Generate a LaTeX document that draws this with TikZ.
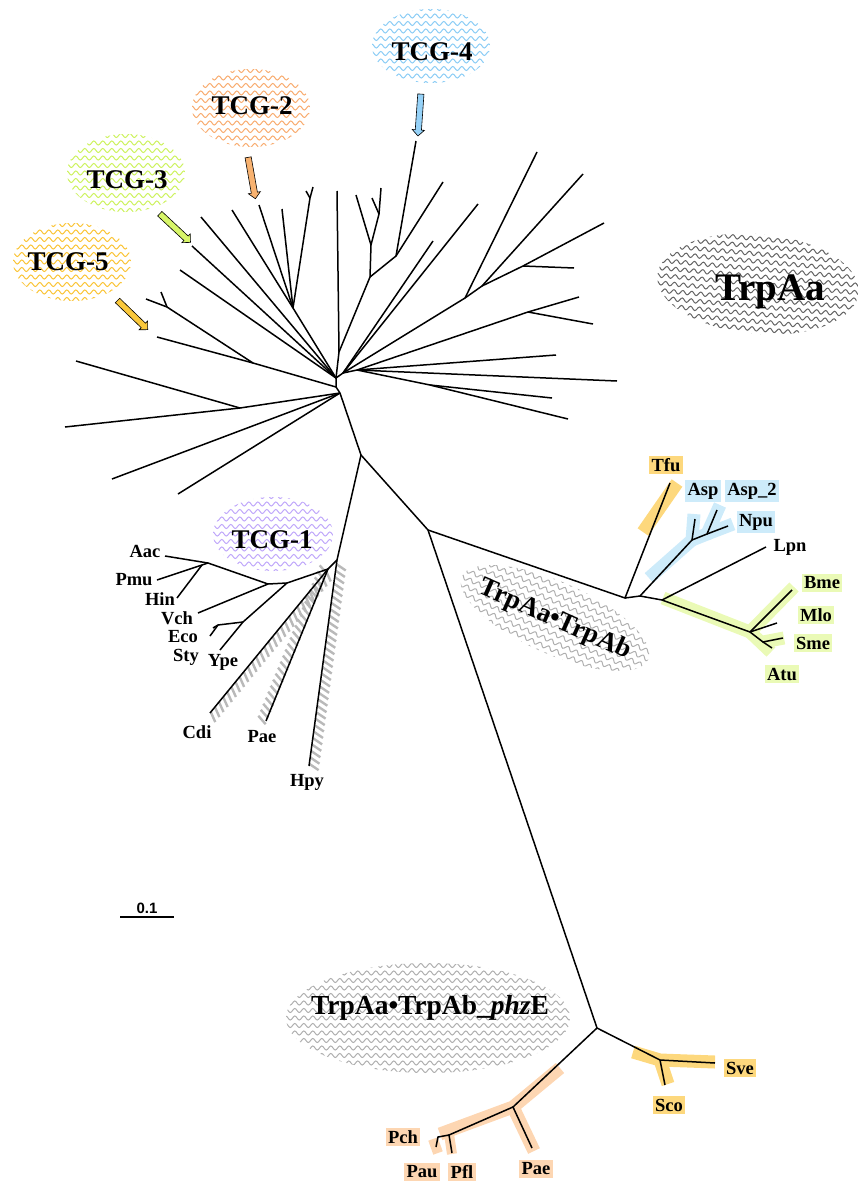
\documentclass[tikz,border=0pt]{standalone}
\usepackage{fontspec}
\setmainfont{Liberation Serif}
\newfontfamily\sansf{Liberation Sans}
\usetikzlibrary{decorations.pathmorphing,decorations.markings,shapes.arrows,calc}
\definecolor{cblue}{RGB}{205,235,250}
\definecolor{cgreen}{RGB}{234,250,182}
\definecolor{cgold}{RGB}{253,216,125}
\definecolor{cpeach}{RGB}{253,214,178}
\definecolor{wblue}{RGB}{140,205,245}
\definecolor{worange}{RGB}{248,172,112}
\definecolor{wgreen}{RGB}{205,242,95}
\definecolor{wgold}{RGB}{250,196,55}
\definecolor{wpurple}{RGB}{192,168,250}
\definecolor{wgray}{RGB}{175,175,175}
\definecolor{wdark}{RGB}{100,100,100}
\definecolor{abl}{RGB}{150,210,248}
\definecolor{aor}{RGB}{248,178,112}
\definecolor{agr}{RGB}{215,245,105}
\definecolor{ago}{RGB}{250,200,60}
\newcommand\wblob[6]{%
\begin{scope}[shift={(#2,#3)}, rotate=#6]
\clip (0,0) ellipse [x radius=#4, y radius=#5];
\foreach \k in {-9,...,9} \draw[#1, line width=1pt, decorate, decoration={snake,amplitude=2pt,segment length=9pt}] (-#4-12,\k*7.5) -- (#4+12,\k*7.5);
\end{scope}}
\begin{document}
\begin{tikzpicture}[x=1pt,y=-1pt,
 br/.style={line width=1.5pt},
 lf/.style={font=\bfseries\fontsize{18.5}{19}\selectfont, inner sep=2.5pt},
 tcg/.style={font=\bfseries\fontsize{27}{28}\selectfont},
 band/.style={line width=13pt, line cap=butt, line join=miter},
 barrow/.style={single arrow, draw=black, line width=0.6pt, inner sep=2.8pt, single arrow head extend=3pt, minimum height=42pt, single arrow head indent=0pt},
 hatch/.style={postaction={decorate, decoration={markings, mark=between positions 0 and 1 step 6.5pt with {\draw[gray!55, line width=2.4pt] (-2.5pt,-5pt) -- (2.5pt,5pt);}}}}
]
\useasboundingbox (0,0) rectangle (859,1183);
% ---------- wavy blobs ----------
\wblob{wblue}{431}{46}{59}{37}{0}
\wblob{worange}{251}{108}{59}{39}{0}
\wblob{wgreen}{126}{173}{59}{39}{0}
\wblob{wgold}{72}{262}{59}{39}{0}
\wblob{wpurple}{273}{534}{60}{37}{0}
\wblob{wdark}{758}{284}{101}{50}{-5}
\wblob{wgray}{555}{618}{102}{36}{-24}
\wblob{wgray}{428}{1018}{142}{55}{0}
% ---------- coordinates ----------
\coordinate (A) at (336,378); \coordinate (B) at (336,387); \coordinate (C) at (340,393);
\coordinate (ul1) at (253,363); \coordinate (ul1a) at (157,337); \coordinate (ul2) at (167,307);
\coordinate (ul2a) at (146,299); \coordinate (ul2b) at (161,292);
\coordinate (ll1) at (240,408); \coordinate (ll1a) at (76,361); \coordinate (ll1b) at (65,427);
\coordinate (ll2) at (112,479); \coordinate (ll3) at (178,494);
\coordinate (u1) at (201,217); \coordinate (u2) at (192,246); \coordinate (u3) at (180,270);
\coordinate (J2) at (293,308); \coordinate (u4) at (232,210); \coordinate (u5) at (259,205);
\coordinate (u6) at (282,209); \coordinate (Fk) at (310,198); \coordinate (fk1) at (313,187); \coordinate (fk2) at (306,191);
\coordinate (K1) at (339,352); \coordinate (V) at (337,191); \coordinate (K2) at (370,277);
\coordinate (K3) at (371,245); \coordinate (k3a) at (356,195); \coordinate (K4) at (379,214);
\coordinate (k4a) at (381,188); \coordinate (k4b) at (372,198);
\coordinate (K5) at (396,256); \coordinate (t4) at (416,141); \coordinate (k5b) at (443,182);
\coordinate (R) at (343,373); \coordinate (r1) at (433,241); \coordinate (r2) at (478,204);
\coordinate (N) at (465,298); \coordinate (n1) at (537,152); \coordinate (P) at (482,286);
\coordinate (p1) at (583,174); \coordinate (Q) at (523,266); \coordinate (q1) at (604,223); \coordinate (q2) at (574,268);
\coordinate (R2) at (357,370); \coordinate (S) at (528,312); \coordinate (s1) at (579,297); \coordinate (s2) at (593,324);
\coordinate (r3) at (556,355); \coordinate (r4) at (617,381); \coordinate (T) at (430,385);
\coordinate (t1) at (552,398); \coordinate (t2) at (568,419);
\coordinate (D) at (361,455); \coordinate (E) at (428,530);
% TCG-1 group
\coordinate (H) at (337,560); \coordinate (hpy) at (309,766); \coordinate (H2) at (328,569);
\coordinate (cdi) at (210,713); \coordinate (pae) at (266,721);
\coordinate (I) at (287,583); \coordinate (I0) at (268,584); \coordinate (I2) at (243,622);
\coordinate (ype) at (220,650); \coordinate (I3) at (218,625); \coordinate (e1) at (213,628); \coordinate (e2) at (210,636);
\coordinate (vch) at (198,613); \coordinate (L) at (208,563); \coordinate (aac) at (165,556);
\coordinate (L2) at (202,565); \coordinate (pmu) at (157,580); \coordinate (hin) at (177,598);
% right cluster
\coordinate (F1) at (625,598); \coordinate (F2) at (640,596); \coordinate (F3) at (692,540);
\coordinate (asp) at (695,519); \coordinate (F4) at (707,534); \coordinate (asp2) at (717,510); \coordinate (npu) at (728,526);
\coordinate (F5) at (662,600); \coordinate (lpn) at (766,547); \coordinate (F6) at (750,632);
\coordinate (bme) at (792,590); \coordinate (mlo) at (777,623); \coordinate (F7) at (763,642);
\coordinate (sme) at (783,638); \coordinate (atu) at (772,648); \coordinate (tfu) at (670,483);
% bottom cluster
\coordinate (G) at (597,1028); \coordinate (Sv) at (660,1060); \coordinate (sve) at (715,1063); \coordinate (sco) at (665,1085);
\coordinate (Ps) at (513,1107); \coordinate (paeb) at (532,1148); \coordinate (P2) at (449,1135);
\coordinate (pfl) at (452,1153); \coordinate (P3) at (438,1137); \coordinate (pau) at (436,1147);
% ---------- coloured bands ----------
\draw[band, cgold] (643,532) -- (677,483);
\draw[band, cblue] (649,578) -- (F3) -- (694,514);
\draw[band, cblue] (F3) -- (F4) -- (720,505);
\draw[band, cblue] (F4) -- (733,524);
\draw[band, cgreen] (663,598) -- (F6) -- (794,587);
\draw[band, cgreen] (F6) -- (771,652);
\draw[band, cgreen] (F7) -- (784,638);
\draw[band, cpeach] (560,1068) -- (Ps) -- (440,1134);
\draw[band, cpeach] (Ps) -- (534,1151);
\draw[line width=10pt, cpeach] (433,1139) -- (438,1153);
\draw[line width=10pt, cpeach] (449,1134) -- (452,1154);
\draw[band, cgold] (633,1052) -- (Sv) -- (715,1062);
\draw[band, cgold] (Sv) -- (668,1084);
% hatch bands
\path[hatch] ($(cdi)+(3,4)$) -- ($(H2)+(4,3)$);
\path[hatch] ($(pae)+(-4,-1)$) -- ($(H2)+(-4,-1)$);
\path[hatch] ($(hpy)+(5,1)$) -- ($(H)+(5,1)$);
% ---------- branches ----------
\draw[br] (A) -- (B) -- (C);
\draw[br] (B) -- (ul1) -- (ul1a); \draw[br] (ul1) -- (ul2) -- (ul2a); \draw[br] (ul2) -- (ul2b);
\draw[br] (C) -- (ll1) -- (ll1a); \draw[br] (ll1) -- (ll1b);
\draw[br] (C) -- (ll2); \draw[br] (C) -- (ll3);
\draw[br] (A) -- (u1); \draw[br] (A) -- (u2); \draw[br] (A) -- (u3);
\draw[br] (A) -- (J2) -- (u4); \draw[br] (J2) -- (u5); \draw[br] (J2) -- (u6);
\draw[br] (J2) -- (Fk) -- (fk1); \draw[br] (Fk) -- (fk2);
\draw[br] (A) -- (K1) -- (V);
\draw[br] (K1) -- (K2) -- (K3) -- (k3a); \draw[br] (K3) -- (K4) -- (k4a); \draw[br] (K4) -- (k4b);
\draw[br] (K2) -- (K5) -- (t4); \draw[br] (K5) -- (k5b);
\draw[br] (A) -- (R) -- (r1); \draw[br] (R) -- (r2);
\draw[br] (R) -- (N) -- (n1); \draw[br] (N) -- (P) -- (p1); \draw[br] (P) -- (Q) -- (q1); \draw[br] (Q) -- (q2);
\draw[br] (R) -- (R2) -- (S) -- (s1); \draw[br] (S) -- (s2);
\draw[br] (R2) -- (r3); \draw[br] (R2) -- (r4);
\draw[br] (R2) -- (T) -- (t1); \draw[br] (T) -- (t2);
\draw[br] (C) -- (D) -- (E);
\draw[br] (D) -- (H) -- (hpy);
\draw[br] (H) -- (H2) -- (cdi); \draw[br] (H2) -- (pae);
\draw[br] (H2) -- (I) -- (I0);
\draw[br] (I) -- (I2) -- (ype); \draw[br] (I2) -- (I3) -- (e1); \draw[br] (I3) -- (e2);
\draw[br] (I0) -- (vch); \draw[br] (I0) -- (L) -- (aac); \draw[br] (L) -- (L2) -- (pmu); \draw[br] (L2) -- (hin);
\draw[br] (E) -- (F1) -- (tfu); \draw[br] (F1) -- (F2) -- (F3) -- (asp);
\draw[br] (F3) -- (F4) -- (asp2); \draw[br] (F4) -- (npu);
\draw[br] (F2) -- (F5) -- (lpn); \draw[br] (F5) -- (F6) -- (bme);
\draw[br] (F6) -- (mlo); \draw[br] (F6) -- (F7) -- (sme); \draw[br] (F7) -- (atu);
\draw[br] (E) -- (G) -- (Sv) -- (sve); \draw[br] (Sv) -- (sco);
\draw[br] (G) -- (Ps) -- (paeb); \draw[br] (Ps) -- (P2) -- (pfl); \draw[br] (P2) -- (P3) -- (pau);
% ---------- leaf labels ----------
\node[lf] (Laac) at (145,551) {Aac};
\node[lf] (Lpmu) at (134,580) {Pmu};
\node[lf] (Lhin) at (160,599) {Hin};
\node[lf] (Lvch) at (177,618) {Vch};
\node[lf] (Leco) at (183,637) {Eco};
\node[lf] (Lsty) at (186,657) {Sty};
\node[lf] (Lype) at (223,662) {Ype};
\node[lf] (Lcdi) at (197,732) {Cdi};
\node[lf] (Lpae) at (262,737) {Pae};
\node[lf] (Lhpy) at (307,782) {Hpy};
\node[lf, fill=cgold] (Ltfu) at (666,465) {Tfu};
\node[lf, fill=cblue] (Lasp) at (703,491) {Asp};
\node[lf, fill=cblue] (Lasp2) at (752,491) {Asp\_2};
\node[lf, fill=cblue] (Lnpu) at (756,522) {Npu};
\node[lf] (Llpn) at (790,547) {Lpn};
\node[lf, fill=cgreen] (Lbme) at (822,583) {Bme};
\node[lf, fill=cgreen] (Lmlo) at (816,615) {Mlo};
\node[lf, fill=cgreen] (Lsme) at (813,643) {Sme};
\node[lf, fill=cgreen] (Latu) at (782,674) {Atu};
\node[lf, fill=cgold] (Lsve) at (740,1068) {Sve};
\node[lf, fill=cgold] (Lsco) at (669,1105) {Sco};
\node[lf, fill=cpeach] (Lpch) at (403,1137) {Pch};
\node[lf, fill=cpeach] (Lpau) at (422,1172) {Pau};
\node[lf, fill=cpeach] (Lpfl) at (462,1172) {Pfl};
\node[lf, fill=cpeach] (Lpae2) at (536,1169) {Pae};
% ---------- group labels ----------
\node[tcg] (tcg4) at (432,52) {TCG-4};
\node[tcg] (tcg2) at (252,106) {TCG-2};
\node[tcg] (tcg3) at (127,180) {TCG-3};
\node[tcg] (tcg5) at (68,262) {TCG-5};
\node[tcg] (tcg1) at (272,540) {TCG-1};
\node[font=\bfseries\fontsize{39}{40}\selectfont] (trpaa) at (770,292) {TrpAa};
\node[font=\bfseries\fontsize{27}{28}\selectfont, rotate=-24] (trpab) at (555,620) {TrpAa•TrpAb};
\node[font=\bfseries\fontsize{27.5}{28}\selectfont] (phze) at (430,1008) {TrpAa•TrpAb\_\textit{phz}E};
% ---------- block arrows ----------
\node[barrow, fill=abl, rotate=-94] (a4) at (419.5,113.5) {};
\node[barrow, fill=aor, rotate=-80] (a2) at (251.5,176.5) {};
\node[barrow, fill=agr, rotate=-43] (a3) at (174,227) {};
\node[barrow, fill=ago, rotate=-44] (a5) at (131.5,314) {};
% ---------- scale bar ----------
\coordinate (sb1) at (120,917); \coordinate (sb2) at (174,917);
\draw[line width=1.3pt] (sb1) -- (sb2);
\node[font=\sansf\bfseries\fontsize{15}{15}\selectfont] (sbl) at (147,908) {0.1};
\end{tikzpicture}
\end{document}
